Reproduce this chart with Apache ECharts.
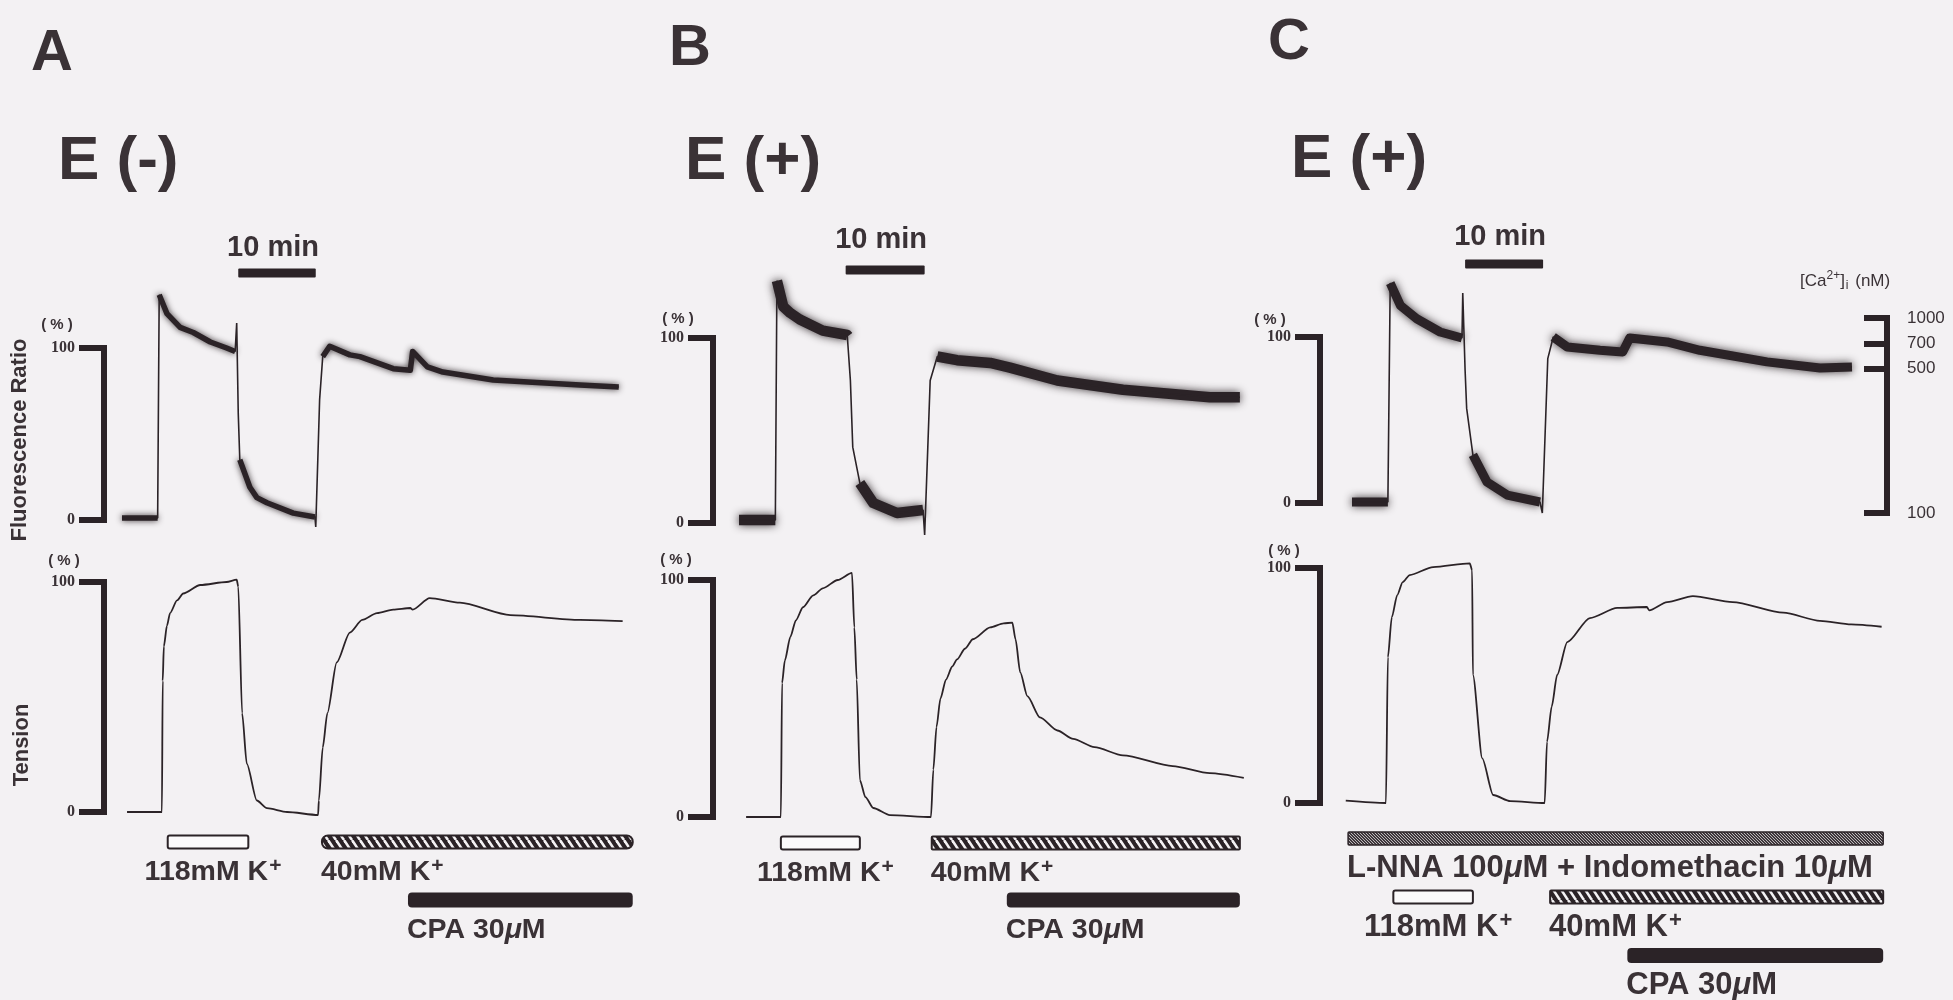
<!DOCTYPE html>
<html>
<head>
<meta charset="utf-8">
<script src="https://cdn.jsdelivr.net/npm/echarts@6.0.0/dist/echarts.min.js"></script>
<style>
html,body{margin:0;padding:0;background:#f3f1f3;}
#c{width:1953px;height:1000px;}
</style>
</head>
<body>
<div id="c"></div>
<script>
// ================= DATA =================
// time in minutes, values in % of the 118 mM K+ response
const panelLetters = ['A', 'B', 'C'];
const panelTitles = ['E (-)', 'E (+)', 'E (+)'];
const scaleBarMin = 10;
const scaleBarLabel = '10 min';
const fluorAxisTitle = 'Fluorescence Ratio';
const tensionAxisTitle = 'Tension';
const unitLabel = '( % )';

// Panel A  E(-)
const fluorA = [[0,1.2],[4.6,1.2],[4.8,131],[5.8,120],[7.5,112],[9.2,109],[11.4,103.5],[13.5,100],[14.6,98],[14.8,114.5],[15.0,62],[15.2,35],[16.5,19],[17.4,13],[18.7,10],[22.1,4],[24.9,1.7],[25.0,-4],[25.5,70],[25.9,95],[26.8,101],[29.4,96],[30.7,95],[35.0,88],[37.2,87],[37.5,98],[39.4,89],[41.4,86],[47.9,81.4],[59.1,78.5],[64.1,77.3]];
const noiseA = [[0,4.6],[4.8,14.6],[15.2,24.9],[25.9,64.1]];
const tensionA = [[0.65,0],[5.15,0],[5.25,57],[5.4,72],[5.8,81],[6.2,86.5],[7.1,92],[7.9,95],[10.1,98.7],[13.5,100],[14.8,101],[15.0,98],[15.5,43],[16.1,21],[17.4,5],[18.7,1.7],[21.3,0],[25.3,-1.3],[25.4,5],[25.9,28],[26.5,43],[27.7,65],[29.4,78],[31.0,83.5],[32.9,86.5],[35.0,88],[37.2,88.7],[37.5,88],[39.7,93],[43.6,91],[50.1,85.6],[59.1,83.5],[64.6,83]];
const drugsA = [['open',5.9,16.3,0,'118mM K{sup|+}'],['hatch',25.8,65.9,0,'40mM K{sup|+}'],['solid',36.9,65.9,1,'CPA 30{mu|μ}M']];

// Panel B  E(+)
const fluorB = [[0,1.6],[4.6,1.6],[4.8,131],[5.6,117],[6.5,113.5],[7.7,110],[10.6,104],[13.7,101.6],[13.8,101],[14.1,77],[14.4,41],[15.3,21.6],[17,10.8],[20,5.4],[23.3,7],[23.5,-6.5],[23.9,41],[24.2,77],[25.1,90],[27.6,88],[31.8,86.5],[34.3,84],[40.3,77],[48.6,72],[59.6,68],[63.4,68]];
const noiseB = [[0,4.6],[4.8,13.8],[15.3,23.3],[24.6,63.4]];
const tensionB = [[0.9,0],[5.3,0],[5.45,56.5],[5.8,66],[6.5,76],[7.2,83],[8.1,88.5],[9.4,93.5],[10.6,96.5],[12.5,100],[14.3,103],[14.6,80],[14.9,58],[15.3,15.6],[16,8.4],[17,3.8],[19.1,0.8],[24.3,0],[24.6,20],[25.0,38],[25.5,50],[26.2,58],[27.0,63.5],[27.6,66.5],[28.6,71],[29.6,75],[31.8,80],[33.5,81.7],[34.6,82],[35.0,75],[35.6,61],[36.5,51],[38.1,42],[40.3,36.5],[42.3,33],[45,29.5],[48.6,26],[54.9,21.5],[59.6,18.5],[63.9,16.5]];
const drugsB = [['open',5.3,15.3,0,'118mM K{sup|+}'],['hatch',24.4,63.4,0,'40mM K{sup|+}'],['solid',33.9,63.4,1,'CPA 30{mu|μ}M']];

// Panel C  E(+) with L-NNA + indomethacin
const fluorC = [[0,0.6],[4.6,0.6],[4.9,132.5],[6.2,119],[8.3,111],[11.3,103],[14.1,99.4],[14.2,126.5],[14.5,80],[14.7,57],[15.5,29],[17.3,12.7],[19.9,4.8],[24.1,0.6],[24.4,-6],[25.1,87],[25.8,100],[27.6,94],[31.8,92],[34.7,91],[35.6,99.4],[40.4,97],[44.6,92],[53.2,85],[60,81.3],[64.1,82]];
const noiseC = [[0,4.6],[4.9,14.1],[15.5,24.1],[25.8,64.1]];
const tensionC = [[-0.8,1],[4.35,0],[4.6,62],[5.1,79],[5.8,88.5],[6.5,94],[7.4,97],[10.4,100.4],[15.1,102],[15.4,99],[15.5,54.5],[16.7,19],[18.1,3.4],[20.3,0.8],[24.7,0],[25.0,26],[25.6,41],[26.3,54.5],[27.6,68.5],[30.5,78.7],[34,83],[37.8,83.4],[38.1,82],[40.4,85.5],[43.7,88],[48.8,85.5],[55.3,81],[60,77.5],[64,76],[67.9,75]];
const drugsC = [['dots',-0.5,68.1,0,'L-NNA 100{mu|μ}M + Indomethacin 10{mu|μ}M'],['open',5.3,15.5,1,'118mM K{sup|+}'],['hatch',25.4,68.1,1,'40mM K{sup|+}'],['solid',35.3,68.1,2,'CPA 30{mu|μ}M']];

// Calibrated [Ca2+]i axis of panel C (nM) and the ratio level (%) each tick sits at
const caTickNM = [100, 500, 700, 1000];
const caTickPct = [-6, 81, 96, 111.5];
const caAxisTitle = '[Ca{sup|2+}]{sub|i} (nM)';

// ================= LAYOUT / STYLE =================
const INK = '#2b2327', TXT = '#3a3236', BG = '#f3f1f3';
const FONT = '"Liberation Sans", Arial, sans-serif';
const SERIF = '"Liberation Serif", "DejaVu Serif", serif';
const X_MIN = -3, X_MAX = 72, F_MIN = -20, F_MAX = 150, T_MIN = -10, T_MAX = 120;

const layout = [
  {x0:122, ppm:7.75, fY100:348, fY0:520, tY100:582, tY0:812, bx:104, rows:[842,900], sbStart:15, sbY:273, sbText:-25, core:5.5, blur:6, hatchR:6, lab:28.5},
  {x0:739, ppm:7.9, fY100:338, fY0:523, tY100:580, tY0:817, bx:713, rows:[843,900], sbStart:13.5, sbY:270, sbText:-30, core:10.5, blur:9, hatchR:1, lab:28.5},
  {x0:1352, ppm:7.8, fY100:337, fY0:503, tY100:568, tY0:803, bx:1320, rows:[838.5,955.5], sbStart:14.5, sbY:264, sbText:-27, core:9, blur:8, hatchR:1, lab:31}
];
const panels = [
  {fluor:fluorA, noise:noiseA, tension:tensionA, drugs:drugsA, nRows:2},
  {fluor:fluorB, noise:noiseB, tension:tensionB, drugs:drugsB, nRows:2},
  {fluor:fluorC, noise:noiseC, tension:tensionC, drugs:drugsC, nRows:3}
];

function richFor(size) {
  return {
    sup: {fontSize:Math.round(size * 0.72), fontWeight:'bold', fontFamily:FONT, color:TXT, verticalAlign:'top', lineHeight:size + 4, padding:[0, 0, 0, 1]},
    mu: {fontSize:size, fontWeight:'bold', fontStyle:'italic', fontFamily:FONT, color:TXT, lineHeight:size + 4}
  };
}

function makeHatch() {
  const c = document.createElement('canvas'); c.width = 8; c.height = 12;
  const g = c.getContext('2d');
  g.fillStyle = INK; g.fillRect(0, 0, 8, 12);
  g.strokeStyle = '#f4f2f4'; g.lineWidth = 2.6;
  for (const dx of [-8, 0, 8]) { g.beginPath(); g.moveTo(dx, 0); g.lineTo(dx + 8, 12); g.stroke(); }
  return c;
}
function makeDots() {
  const c = document.createElement('canvas'); c.width = 3; c.height = 3;
  const g = c.getContext('2d');
  g.fillStyle = '#bdb8bb'; g.fillRect(0, 0, 3, 3);
  g.fillStyle = '#3e373b'; g.fillRect(0, 0, 2, 1); g.fillRect(1, 1, 2, 1); g.fillRect(0, 2, 1, 1); g.fillRect(2, 2, 1, 1);
  return c;
}
const hatchCanvas = makeHatch(), dotCanvas = makeDots();

const grids = [], xAxes = [], yAxes = [], series = [];
function addGrid(g, x, y) {
  grids.push(Object.assign({containLabel:false}, g));
  const i = grids.length - 1;
  xAxes.push(Object.assign({gridIndex:i}, x));
  yAxes.push(Object.assign({gridIndex:i}, y));
  return i;
}
const hiddenX = {type:'value', min:X_MIN, max:X_MAX, show:false};
function bracketAxis() {
  return {type:'value', min:0, max:100, interval:100, position:'left',
    axisLine:{show:true, lineStyle:{color:INK, width:6, cap:'square'}},
    axisTick:{show:true, length:25, lineStyle:{color:INK, width:6}},
    axisLabel:{show:true, margin:29, fontFamily:SERIF, fontWeight:'bold', fontSize:16, color:TXT},
    splitLine:{show:false}};
}
function noiseData(trace, ranges) {
  const out = [];
  ranges.forEach(([a, b]) => {
    trace.forEach(pt => { if (pt[0] >= a && pt[0] <= b) out.push(pt); });
    out.push([b + 0.01, null]);
  });
  return out;
}

panels.forEach((P, p) => {
  const L = layout[p];
  const gl = L.x0 + X_MIN * L.ppm, gw = (X_MAX - X_MIN) * L.ppm;
  const fs = (L.fY0 - L.fY100) / 100, ts = (L.tY0 - L.tY100) / 100;
  const gf = addGrid({left:gl, width:gw, top:L.fY100 - (F_MAX - 100) * fs, height:(F_MAX - F_MIN) * fs},
    hiddenX, {type:'value', min:F_MIN, max:F_MAX, show:false});
  const gt = addGrid({left:gl, width:gw, top:L.tY100 - (T_MAX - 100) * ts, height:(T_MAX - T_MIN) * ts},
    hiddenX, {type:'value', min:T_MIN, max:T_MAX, show:false});
  const gb = addGrid({left:gl, width:gw, top:L.rows[0], height:L.rows[1] - L.rows[0]},
    hiddenX, {type:'value', min:0, max:P.nRows - 1, inverse:true, show:false});
  addGrid({left:L.bx, width:10, top:L.fY100, height:L.fY0 - L.fY100}, {type:'value', show:false}, bracketAxis());
  addGrid({left:L.bx, width:10, top:L.tY100, height:L.tY0 - L.tY100}, {type:'value', show:false}, bracketAxis());

  // fluorescence: blurred noisy core on plateaus + thin full trace
  series.push({type:'line', xAxisIndex:gf, yAxisIndex:gf, data:noiseData(P.fluor, P.noise), showSymbol:false, silent:true,
    connectNulls:false, lineStyle:{color:INK, width:L.core, join:'round', shadowBlur:L.blur, shadowColor:'rgba(43,35,39,0.9)'}});
  series.push({type:'line', xAxisIndex:gf, yAxisIndex:gf, data:P.fluor, showSymbol:false, silent:true,
    lineStyle:{color:INK, width:1.6}});
  // tension
  series.push({type:'line', xAxisIndex:gt, yAxisIndex:gt, data:P.tension, showSymbol:false, silent:true,
    smooth:0.25, smoothMonotone:'x', lineStyle:{color:INK, width:1.8}});
  // 10 min scale bar
  series.push({type:'custom', xAxisIndex:gf, yAxisIndex:gf, silent:true, clip:false,
    data:[[L.sbStart, L.sbStart + scaleBarMin]], encode:{x:[0, 1]},
    renderItem:(params, api) => {
      const x1 = api.coord([api.value(0), 0])[0], x2 = api.coord([api.value(1), 0])[0];
      return {type:'group', children:[
        {type:'rect', shape:{x:x1, y:L.sbY - 4.5, width:x2 - x1, height:9, r:1}, style:{fill:INK}},
        {type:'text', x:(x1 + x2) / 2 - 4, y:L.sbY + L.sbText,
          style:{text:scaleBarLabel, fill:TXT, font:'bold 29px ' + FONT, align:'center', verticalAlign:'middle'}}
      ]};
    }});
  // drug application bars
  const RICH = richFor(L.lab);
  series.push({type:'custom', xAxisIndex:gb, yAxisIndex:gb, silent:true, clip:false,
    data:P.drugs.map(d => [d[1], d[2], d[3]]), encode:{x:[0, 1], y:2},
    renderItem:(params, api) => {
      const d = P.drugs[params.dataIndex], kind = d[0];
      const a = api.coord([api.value(0), api.value(2)]), b = api.coord([api.value(1), api.value(2)]);
      const x1 = a[0], x2 = b[0], yc = a[1];
      const h = kind === 'solid' ? 15 : 13;
      let style, r;
      if (kind === 'open') { style = {fill:'#fbfafb', stroke:INK, lineWidth:2}; r = 2; }
      else if (kind === 'hatch') { style = {fill:{image:hatchCanvas, repeat:'repeat'}, stroke:INK, lineWidth:2}; r = L.hatchR; }
      else if (kind === 'dots') { style = {fill:{image:dotCanvas, repeat:'repeat'}, stroke:INK, lineWidth:1.5}; r = 1; }
      else { style = {fill:INK}; r = 4; }
      const centered = kind === 'open';
      return {type:'group', children:[
        {type:'rect', shape:{x:x1, y:yc - h / 2, width:x2 - x1, height:h, r:r}, style:style},
        {type:'text', x:centered ? (x1 + x2) / 2 + 5 : x1 - 1, y:yc + 30,
          style:{text:d[4], fill:TXT, font:'bold ' + L.lab + 'px ' + FONT, align:centered ? 'center' : 'left', verticalAlign:'middle', rich:RICH}}
      ]};
    }});
});

// right-hand calibrated [Ca2+]i axis for panel C
(function () {
  const L = layout[2], fs = (L.fY0 - L.fY100) / 100;
  const lo = caTickPct[0], hi = caTickPct[caTickPct.length - 1];
  const top = L.fY100 - (hi - 100) * fs, bottom = L.fY0 + (0 - lo) * fs;
  addGrid({left:1887, width:10, top:top, height:bottom - top}, {type:'value', show:false},
    {type:'value', min:lo, max:hi, position:'right',
      axisLine:{show:true, lineStyle:{color:INK, width:6, cap:'square'}},
      axisTick:{show:true, inside:true, length:23, customValues:caTickPct, lineStyle:{color:INK, width:6}},
      axisLabel:{show:true, margin:10, customValues:caTickPct, fontFamily:FONT, fontSize:17, color:TXT,
        formatter:v => { let k = 0, best = 1e9; caTickPct.forEach((c, i) => { if (Math.abs(c - v) < best) { best = Math.abs(c - v); k = i; } }); return String(caTickNM[k]); }},
      splitLine:{show:false}});
})();

// ================= TEXT ANNOTATIONS =================
function T(x, y, text, size, o) {
  o = o || {};
  const st = {text:text, fill:TXT, font:(o.weight || 'bold') + ' ' + size + 'px ' + (o.family || FONT),
    textAlign:o.align || 'left', textVerticalAlign:'middle', align:o.align || 'left', verticalAlign:'middle'};
  if (o.rich) st.rich = o.rich;
  return {type:'text', x:x, y:y, rotation:o.rot || 0, z:100, silent:true, style:st};
}
const graphics = [
  T(31, 54, panelLetters[0], 58), T(669, 49, panelLetters[1], 58), T(1268, 43, panelLetters[2], 58),
  T(58, 162, panelTitles[0], 62), T(685, 162, panelTitles[1], 62), T(1291, 160, panelTitles[2], 62),
  T(20, 440, fluorAxisTitle, 22, {align:'center', rot:Math.PI / 2}),
  T(22, 745, tensionAxisTitle, 22, {align:'center', rot:Math.PI / 2}),
  T(57, 325, unitLabel, 15, {align:'center'}), T(64, 561, unitLabel, 15, {align:'center'}),
  T(678, 319, unitLabel, 15, {align:'center'}), T(676, 560, unitLabel, 15, {align:'center'}),
  T(1270, 320, unitLabel, 15, {align:'center'}), T(1284, 551, unitLabel, 15, {align:'center'}),
  T(1800, 281, caAxisTitle, 17, {weight:'normal', rich:{
    sup:{fontSize:12, fontFamily:FONT, color:TXT, verticalAlign:'top', lineHeight:22},
    sub:{fontSize:12, fontFamily:FONT, color:TXT, verticalAlign:'bottom', lineHeight:22, padding:[12, 2, 0, 1]}}})
];

const chart = echarts.init(document.getElementById('c'), null, {renderer:'canvas', width:1953, height:1000});
chart.setOption({
  backgroundColor:BG,
  animation:false,
  grid:grids, xAxis:xAxes, yAxis:yAxes, series:series, graphic:graphics
});
</script>
</body>
</html>
